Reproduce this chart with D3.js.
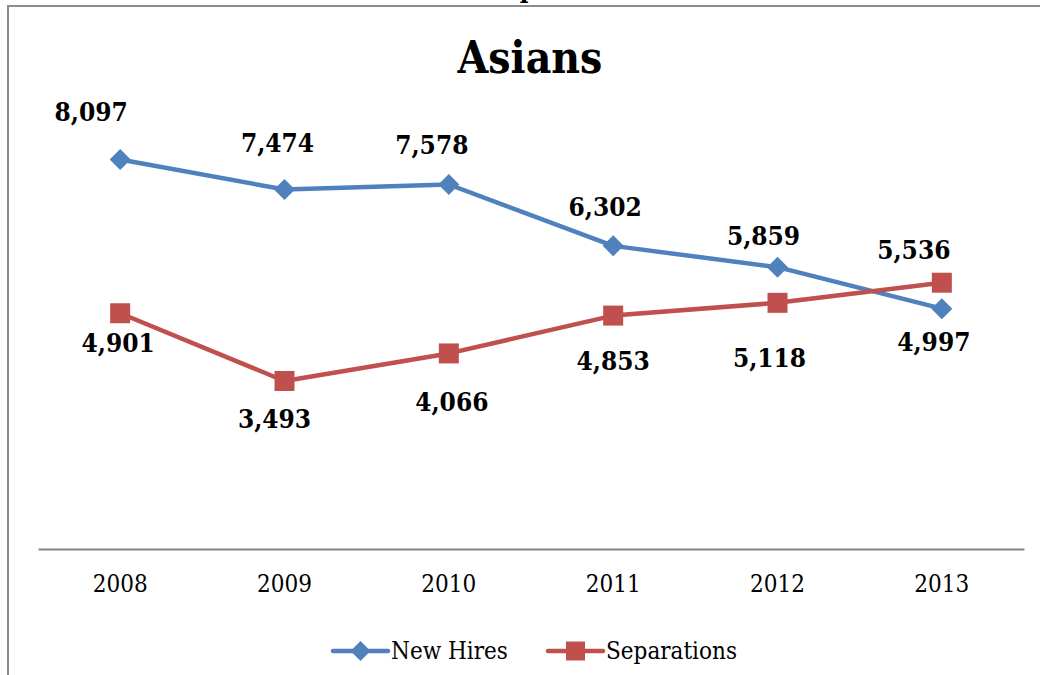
<!DOCTYPE html>
<html>
<head>
<meta charset="utf-8">
<script src="https://cdn.jsdelivr.net/npm/d3@7"></script>
<style>
  html, body { margin: 0; padding: 0; background: #fff; }
  svg { display: block; }
  .serif { font-family: "DejaVu Serif Condensed", "DejaVu Serif", serif; font-stretch: condensed; }
</style>
</head>
<body>
<svg id="chart" width="1040" height="675"></svg>
<script>
// Yearly new hires and separations of Asian employees
const years = ["2008", "2009", "2010", "2011", "2012", "2013"];
const newHires = [8097, 7474, 7578, 6302, 5859, 4997];
const separations = [4901, 3493, 4066, 4853, 5118, 5536];
const seriesNames = ["New Hires", "Separations"];

// Hand-placed label nudges (dx, dy) relative to each point
const hireLabelShift = [[-29, -39], [-7, -38], [-17, -30], [-8, -30], [-14, -22], [-8, 42]];
const sepLabelShift = [[-2, 39], [-10, 47], [3, 58], [0, 54], [-8, 64], [-28, -24]];

const svg = d3.select("#chart");
const blue = "#4F81BD", red = "#C0504D";

// Chart frame (extends past the right and bottom edges)
svg.append("rect")
  .attr("x", 8).attr("y", 6).attr("width", 1100).attr("height", 1000)
  .attr("fill", "none").attr("stroke", "#8c8c8c").attr("stroke-width", 2);

// Tail of the heading text above the frame
svg.append("text").attr("class", "serif")
  .attr("x", 528).attr("y", -2).attr("text-anchor", "middle")
  .attr("font-size", 26).attr("font-weight", "bold").text("p");

const x = d3.scaleBand().domain(years).range([38, 1024]);
const y = d3.scaleLinear().domain([0, 10000]).range([549, 68]);
const cx = d => x(d) + x.bandwidth() / 2;

// Title
svg.append("text").attr("class", "serif")
  .attr("x", 530).attr("y", 73).attr("text-anchor", "middle")
  .attr("font-size", 44).attr("font-weight", "bold").text("Asians");

// Category axis
const axis = svg.append("g").attr("transform", `translate(0,${y(0)})`)
  .call(d3.axisBottom(x).tickSize(0).tickPadding(0));
axis.select(".domain").attr("stroke", "#868686").attr("stroke-width", 2);
axis.selectAll(".tick text").attr("class", "serif")
  .attr("font-size", 24).attr("fill", "#000").attr("dy", 0).attr("y", 43);

const line = d3.line().x((d, i) => cx(years[i])).y(d => y(d));

// Marker shapes: diamond with half-diagonal r, square with half-side r
const diamond = r => `M0,${-r}L${r},0L0,${r}L${-r},0Z`;
const square = r => `M${-r},${-r}H${r}V${r}H${-r}Z`;

function drawSeries(values, color, marker, shifts) {
  svg.append("path").datum(values)
    .attr("d", line).attr("fill", "none")
    .attr("stroke", color).attr("stroke-width", 4.5).attr("stroke-linejoin", "round");
  svg.selectAll(null).data(values).enter().append("path")
    .attr("d", marker)
    .attr("transform", (d, i) => `translate(${cx(years[i])},${y(d)})`)
    .attr("fill", color);
  svg.selectAll(null).data(values).enter().append("text")
    .attr("class", "serif")
    .attr("x", (d, i) => cx(years[i]) + shifts[i][0])
    .attr("y", (d, i) => y(d) + shifts[i][1])
    .attr("text-anchor", "middle").attr("font-size", 26).attr("font-weight", "bold")
    .text(d => d3.format(",")(d));
}

drawSeries(newHires, blue, diamond(10.5), hireLabelShift);
drawSeries(separations, red, square(10), sepLabelShift);

// Legend
const legend = [
  { name: seriesNames[0], color: blue, marker: diamond(10), x0: 333 },
  { name: seriesNames[1], color: red, marker: square(9.5), x0: 548 }
];
legend.forEach(l => {
  const g = svg.append("g").attr("transform", `translate(${l.x0},651)`);
  g.append("line").attr("x1", 0).attr("x2", 55).attr("y1", 0).attr("y2", 0)
    .attr("stroke", l.color).attr("stroke-width", 4.5).attr("stroke-linecap", "round");
  g.append("path").attr("d", l.marker)
    .attr("transform", "translate(27.5,0)").attr("fill", l.color);
  g.append("text").attr("class", "serif")
    .attr("x", 58).attr("y", 8).attr("font-size", 24).attr("fill", "#000").text(l.name);
});
</script>
</body>
</html>
